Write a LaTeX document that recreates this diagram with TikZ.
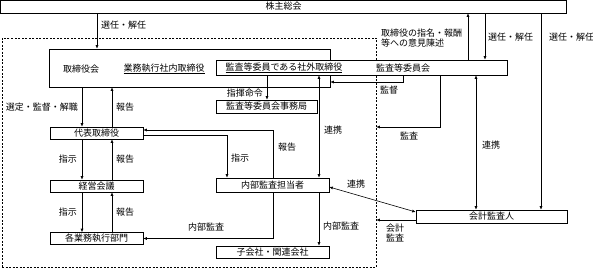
\documentclass[tikz,border=0pt]{standalone}
\usepackage{fontspec}
\setmainfont{Noto Sans CJK JP}
\usetikzlibrary{arrows.meta, positioning, calc}

\begin{document}
\begin{tikzpicture}[
  x=1pt, y=-1pt,
  font=\fontsize{9}{10}\selectfont,
  >={Latex[length=3.5pt,width=3pt]},
  box/.style   ={draw, line width=0.6pt, fill=white, inner sep=0pt},
  grpbox/.style={draw, line width=0.6pt, dash pattern=on 2pt off 1.5pt, inner sep=0pt},
  arr/.style   ={->, line width=0.6pt},
  both/.style  ={<->, line width=0.6pt},
  lbl/.style   ={inner sep=0pt, anchor=west},
]
\useasboundingbox (0,0) rectangle (593,270);

% --- company group (dashed) and top box ---
\node[grpbox, minimum width=374pt, minimum height=229pt] (grp) at (189,152.5) {};
\node[box, minimum width=566pt, minimum height=13pt] (gms) at (283.5,6.5) {株主総会};

% --- board and audit committee ---
\node[box, fill=none, minimum width=281pt, minimum height=38pt] (board) at (189.5,68) {};
\node[lbl, anchor=center] (bdname) at (81,69) {取締役会};
\node[lbl, anchor=center] (execdir) at (164,69) {\underline{業務執行社内取締役}};
\node[box, minimum width=291pt, minimum height=15pt] (acm) at (361.5,67.5) {};
\node[lbl, anchor=center] (outdir) at (284,68) {\underline{監査等委員である社外取締役}};
\node[lbl, anchor=center] (acmname) at (403,68) {監査等委員会};
\node[box, minimum width=101pt, minimum height=13pt] (office) at (266.5,106.5) {監査等委員会事務局};

% --- executive line ---
\node[box, minimum width=93pt, minimum height=12pt] (ceo)   at (96.5,133)   {代表取締役};
\node[box, minimum width=93pt, minimum height=12pt] (mgmt)  at (96.5,186)   {経営会議};
\node[box, minimum width=93pt, minimum height=12pt] (depts) at (96.5,238.5) {各業務執行部門};
\node[box, minimum width=113pt, minimum height=14pt] (ia)   at (272.5,185)  {内部監査担当者};
\node[box, minimum width=113pt, minimum height=12pt] (subs) at (272.5,252)  {子会社・関連会社};
\node[box, minimum width=151pt, minimum height=13pt] (audit) at (491.5,216.5) {会計監査人};

% --- shareholders' meeting arrows ---
\draw[arr] (97,0 |- gms.south) -- (97,0 |- board.north);
\node[lbl] (l1) at (101,25) {選任・解任};
\draw[arr] (468,0 |- acm.north) -- (468,0 |- gms.south);
\node[lbl, align=left] (l2) at (381,38) {取締役の指名・報酬\\等への意見陳述};
\draw[arr] (485,0 |- gms.south) -- (485,0 |- acm.north);
\node[lbl] (l3) at (488,37) {選任・解任};
\draw[arr] (541,0 |- gms.south) -- (541,0 |- audit.north);
\node[lbl] (l4) at (549,37) {選任・解任};

% --- left column ---
\draw[arr] (82,0 |- board.south) -- (82,0 |- ceo.north);
\node[lbl, anchor=east] (l5) at (78,107) {選定・監督・解職};
\draw[arr] (112,0 |- ceo.north) -- (112,0 |- board.south);
\node[lbl] (l6) at (116,107) {報告};
\draw[arr] (82,0 |- ceo.south) -- (82,0 |- mgmt.north);
\node[lbl, anchor=east] (l7) at (77,159) {指示};
\draw[arr] (112,0 |- mgmt.north) -- (112,0 |- ceo.south);
\node[lbl] (l8) at (116,159) {報告};
\draw[arr] (82,0 |- mgmt.south) -- (82,0 |- depts.north);
\node[lbl, anchor=east] (l9) at (77,212) {指示};
\draw[arr] (112,0 |- depts.north) -- (112,0 |- mgmt.south);
\node[lbl] (l10) at (116,212) {報告};

% --- committee office and internal audit ---
\draw[arr] (267,0 |- acm.south) -- (267,0 |- office.north);
\node[lbl, anchor=east] (l11) at (263,93) {指揮命令};
\draw[arr] (403,0 |- acm.south) |- (board.east |- 0,82);
\node[lbl] (l12) at (380,90) {監督};
\draw[both] (319,0 |- acm.south) -- (319,0 |- ia.north);
\node[lbl] (l13) at (324,130) {連携};
\draw[arr] (ceo.east |- 0,135) -| (227,0 |- ia.north);
\node[lbl] (l14) at (231,158) {指示};
\draw[arr] (273,0 |- ia.north) |- (ceo.east |- 0,130);
\node[lbl] (l15) at (278,147) {報告};
\draw[arr] (273,0 |- ia.south) |- (depts.east);
\node[lbl] (l16) at (188,227) {内部監査};
\draw[arr] (319,0 |- ia.south) -- (319,0 |- subs.north);
\node[lbl] (l17) at (323,226) {内部監査};

% --- accounting auditor ---
\draw[arr] (440,0 |- acm.south) |- (grp.east |- 0,127);
\node[lbl] (l18) at (400,136) {監査};
\draw[both] (476,0 |- acm.south) -- (476,0 |- audit.north);
\node[lbl] (l19) at (482,145) {連携};
\draw[both] (ia.east |- 0,187) -- (audit.west |- 0,212);
\node[lbl] (l20) at (347,184) {連携};
\draw[arr] (audit.west |- 0,220) -- (grp.east |- 0,220);
\node[lbl, align=left] (l21) at (386,233) {会計\\監査};

\end{tikzpicture}
\end{document}
